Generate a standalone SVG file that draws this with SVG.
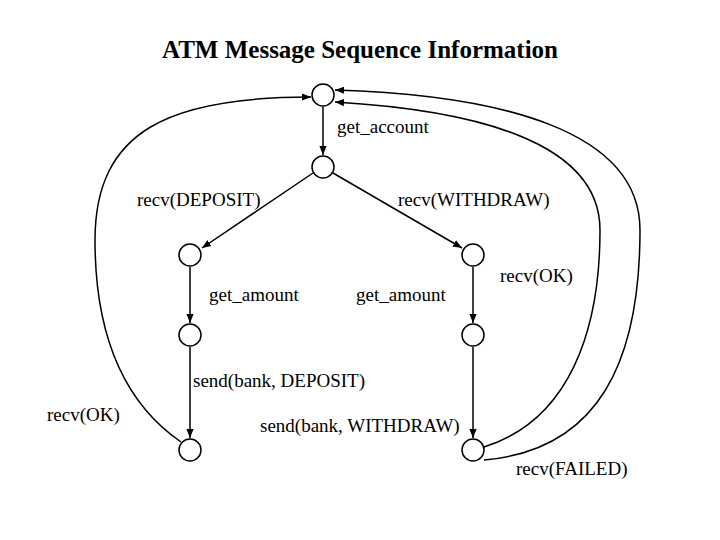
<svg xmlns="http://www.w3.org/2000/svg" width="720" height="540" viewBox="0 0 720 540">
<style>
.n{fill:#fff;stroke:#000;stroke-width:1.5}
.e{fill:none;stroke:#000;stroke-width:1.5}
.t{font-family:'Liberation Serif','DejaVu Serif',serif;font-size:19px;fill:#000}
</style>
<defs><marker id="a" viewBox="0 0 10 10" refX="10" refY="5" markerWidth="9" markerHeight="9" markerUnits="userSpaceOnUse" orient="auto"><path d="M0,1L10,5L0,9z"/></marker></defs>
<rect width="720" height="540" fill="#fff"/>
<text class="t" x="360" y="58" text-anchor="middle" style="font-size:25px;font-weight:bold">ATM Message Sequence Information</text>
<g id="connectors">
<path class="e" d="M323,107V155" marker-end="url(#a)"/>
<path class="e" d="M313,173L202,248" marker-end="url(#a)"/>
<path class="e" d="M333,173L462,248" marker-end="url(#a)"/>
<path class="e" d="M190,267V323" marker-end="url(#a)"/>
<path class="e" d="M190,347V438" marker-end="url(#a)"/>
<path class="e" d="M473,267V323" marker-end="url(#a)"/>
<path class="e" d="M473,347V438" marker-end="url(#a)"/>
<path class="e" d="M181,442C120,400 95,330 95,240C95,130 170,97 311,97" marker-end="url(#a)"/>
<path class="e" d="M484,447C570,420 600,330 600,230C600,140 470,110 335,102" marker-end="url(#a)"/>
<path class="e" d="M484,460C600,450 640,360 640,230C640,130 500,95 335,90" marker-end="url(#a)"/>
</g>
<g id="n0"><circle class="n" cx="323" cy="95" r="11"/></g>
<g id="n1"><circle class="n" cx="323" cy="167" r="11"/></g>
<g id="n2"><circle class="n" cx="190" cy="255" r="11"/></g>
<g id="n3"><circle class="n" cx="190" cy="335" r="11"/></g>
<g id="n4"><circle class="n" cx="190" cy="450" r="11"/></g>
<g id="n5"><circle class="n" cx="473" cy="255" r="11"/></g>
<g id="n6"><circle class="n" cx="473" cy="335" r="11"/></g>
<g id="n7"><circle class="n" cx="473" cy="450" r="11"/></g>
<g id="labels">
<text class="t" x="337" y="133">get_account</text>
<text class="t" x="137" y="206">recv(DEPOSIT)</text>
<text class="t" x="398" y="206">recv(WITHDRAW)</text>
<text class="t" x="209" y="301">get_amount</text>
<text class="t" x="356" y="301">get_amount</text>
<text class="t" x="500" y="282">recv(OK)</text>
<text class="t" x="193" y="387">send(bank, DEPOSIT)</text>
<text class="t" x="47" y="421">recv(OK)</text>
<text class="t" x="260" y="432">send(bank, WITHDRAW)</text>
<text class="t" x="516" y="475">recv(FAILED)</text>
</g>
</svg>
